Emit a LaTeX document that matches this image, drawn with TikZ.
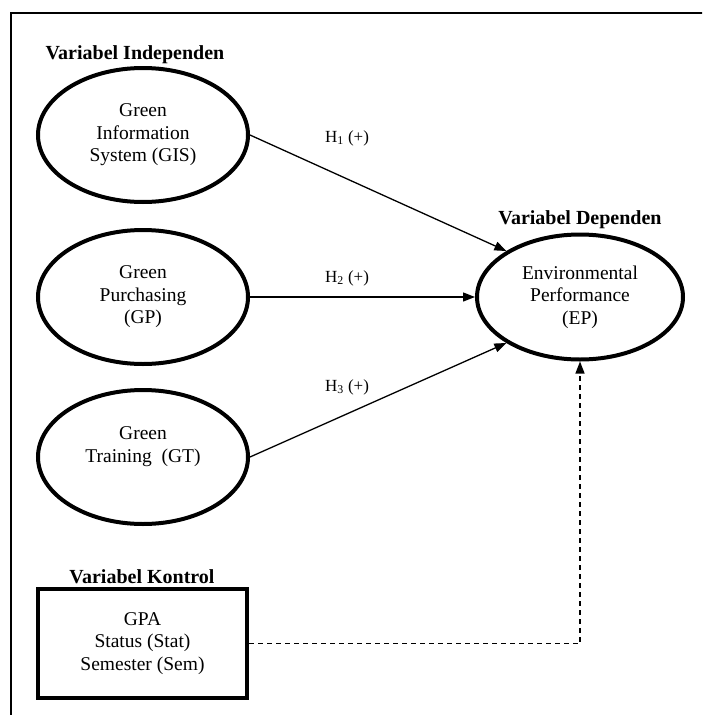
\documentclass[tikz,border=0pt]{standalone}
\usepackage{fontspec}
\setmainfont{Liberation Serif}
\usetikzlibrary{shapes.geometric,arrows.meta}
\tikzset{
  varell/.style={ellipse, draw, line width=4pt, inner sep=0pt, align=center,
    font=\fontsize{19.5}{22.5}\selectfont},
  varbox/.style={rectangle, draw, line width=4pt, inner sep=0pt, align=center,
    minimum width=209pt, minimum height=109pt, font=\fontsize{19.5}{22.5}\selectfont},
  grouplbl/.style={font=\fontsize{20}{24}\selectfont\bfseries, inner sep=0pt},
  hlbl/.style={font=\fontsize{17}{20}\selectfont, inner sep=0pt},
  conn/.style={line width=1.3pt, -{Triangle[length=12pt,width=9pt]}},
  dconn/.style={line width=1.3pt, dash pattern=on 5pt off 4pt, -{Triangle[length=12pt,width=9pt]}},
  frameline/.style={line width=2.8pt}
}
\begin{document}
\begin{tikzpicture}[x=1pt,y=-1pt]
\useasboundingbox (0,0) rectangle (702,715);
\clip (0,0) rectangle (702,715);
% frame
\coordinate (fbl) at (11,720);
\coordinate (ftl) at (11,13);
\coordinate (ftr) at (710,13);
\draw[frameline] (fbl) -- (ftl) -- (ftr);

% group labels
\node[grouplbl] (lind) at (135,55) {Variabel Independen};
\node[grouplbl] (ldep) at (580,220) {Variabel Dependen};
\node[grouplbl] (lkon) at (142,577) {Variabel Kontrol};

% variables
\node[varell, minimum width=210pt, minimum height=134pt] (gis) at (143,135) {Green\\Information\\System (GIS)};
\node[varell, minimum width=210pt, minimum height=134pt] (gp) at (143,297) {Green\\Purchasing\\(GP)};
\node[varell, minimum width=210pt, minimum height=134pt] (gt) at (143,457) {Green\\Training\ \ (GT)\\[2pt]\mbox{}};
\node[varell, minimum width=206pt, minimum height=125pt] (ep) at (580,297) {Environmental\\Performance\\(EP)};
\node[varbox] (ctl) at (142.5,643.5) {GPA\\Status (Stat)\\Semester (Sem)};

% connectors
\draw[conn] (gis.east) -- (ep.148);
\draw[conn] (gp.east) -- (ep.west);
\draw[conn] (gt.east) -- (ep.212);
\draw[dconn] (ctl.east) -| (ep.south);

% hypothesis labels
\node[hlbl] (h1) at (347,138) {H\textsubscript{1} (+)};
\node[hlbl] (h2) at (347,278) {H\textsubscript{2} (+)};
\node[hlbl] (h3) at (347,387) {H\textsubscript{3} (+)};
\end{tikzpicture}
\end{document}
